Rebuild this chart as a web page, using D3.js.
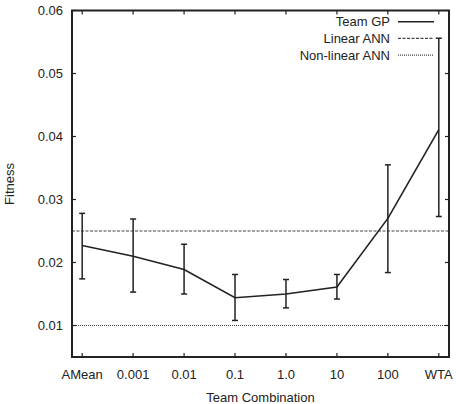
<!DOCTYPE html>
<html><head><meta charset="utf-8">
<script src="https://cdn.jsdelivr.net/npm/d3@7"></script>
<style>body{margin:0;background:#fff}svg{display:block}text{font-family:"Liberation Sans",Arial,sans-serif;fill:#222}</style>
</head><body><svg id="c" width="456" height="404"></svg>
<script>
const categories = ["AMean","0.001","0.01","0.1","1.0","10","100","WTA"];
const teamGP   = [0.0227,0.0210,0.0189,0.0144,0.0150,0.0161,0.0270,0.0411];
const errLow   = [0.0174,0.0153,0.0150,0.0108,0.0128,0.0142,0.0184,0.0273];
const errHigh  = [0.0278,0.0269,0.0229,0.0181,0.0173,0.0181,0.0355,0.0556];
const linearANN = 0.025;
const nonlinearANN = 0.01;
const yTicks = [0.01,0.02,0.03,0.04,0.05,0.06];
const legendLabels = ["Team GP","Linear ANN","Non-linear ANN"];

const svg = d3.select("#c");
const L=72,R=449,T=10.5,B=357;
const x = d3.scaleLinear().domain([-0.2,7.2]).range([L,R]);
const y = d3.scaleLinear().domain([0.005,0.06]).range([B,T]);
const col="#222";

// reference lines
const refs=[{v:linearANN,d:"3,1.5",w:1.2},{v:nonlinearANN,d:"1,1",w:1.2}];
refs.forEach(r=>svg.append("line").attr("x1",L).attr("x2",R).attr("y1",y(r.v)).attr("y2",y(r.v))
  .attr("stroke","#444").attr("stroke-width",r.w).attr("stroke-dasharray",r.d));

// ticks inward
const tl=4;
const g=svg.append("g").attr("stroke",col).attr("stroke-width",1.2);
yTicks.forEach(t=>{
  g.append("line").attr("x1",L).attr("x2",L+tl).attr("y1",y(t)).attr("y2",y(t));
  g.append("line").attr("x1",R).attr("x2",R-tl).attr("y1",y(t)).attr("y2",y(t));
});
categories.forEach((c,i)=>{
  g.append("line").attr("x1",x(i)).attr("x2",x(i)).attr("y1",B).attr("y2",B-tl);
  g.append("line").attr("x1",x(i)).attr("x2",x(i)).attr("y1",T).attr("y2",T+tl);
});
// tick labels
svg.append("g").selectAll("text").data(yTicks).join("text")
  .attr("x",L-9).attr("y",d=>y(d)).attr("dy","0.35em").attr("text-anchor","end")
  .attr("font-size",13).text(d=>d.toFixed(2));
svg.append("g").selectAll("text").data(categories).join("text")
  .attr("x",(d,i)=>x(i)).attr("y",374).attr("dy","0.35em").attr("text-anchor","middle")
  .attr("font-size",13).text(d=>d);

// error bars
const eb=svg.append("g").attr("stroke",col).attr("stroke-width",1.5);
categories.forEach((c,i)=>{
  eb.append("line").attr("x1",x(i)).attr("x2",x(i)).attr("y1",y(errLow[i])).attr("y2",y(errHigh[i]));
  eb.append("line").attr("x1",x(i)-3).attr("x2",x(i)+3).attr("y1",y(errLow[i])).attr("y2",y(errLow[i]));
  eb.append("line").attr("x1",x(i)-3).attr("x2",x(i)+3).attr("y1",y(errHigh[i])).attr("y2",y(errHigh[i]));
});
// main line
svg.append("path").datum(teamGP).attr("fill","none").attr("stroke",col).attr("stroke-width",1.6)
  .attr("d",d3.line().x((d,i)=>x(i)).y(d=>y(d)));

// frame
svg.append("rect").attr("x",L).attr("y",T).attr("width",R-L).attr("height",B-T)
  .attr("fill","none").attr("stroke",col).attr("stroke-width",2);

// legend
const ls=[{d:null},{d:"3,1.5"},{d:"1,1"}];
legendLabels.forEach((t,i)=>{
  const yy=21.7+i*16.7;
  svg.append("text").attr("x",390).attr("y",yy).attr("dy","0.35em").attr("text-anchor","end")
    .attr("font-size",13).text(t);
  svg.append("line").attr("x1",398).attr("x2",434).attr("y1",yy).attr("y2",yy)
    .attr("stroke",i==0?col:"#444").attr("stroke-width",i==0?1.6:1.2).attr("stroke-dasharray",ls[i].d);
});

// axis titles
svg.append("text").attr("transform","translate(14,184) rotate(-90)").attr("text-anchor","middle")
  .attr("font-size",13).text("Fitness");
svg.append("text").attr("x",(L+R)/2).attr("y",402).attr("text-anchor","middle")
  .attr("font-size",13).text("Team Combination");
</script></body></html>
